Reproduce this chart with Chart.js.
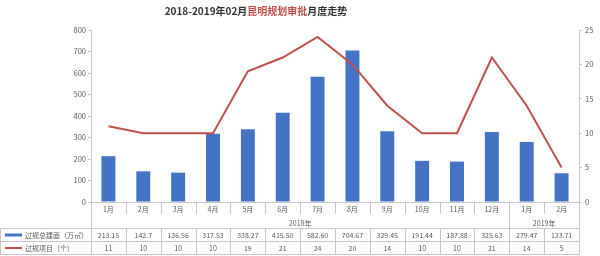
<!DOCTYPE html>
<html><head><meta charset="utf-8">
<script src="https://cdn.jsdelivr.net/npm/chart.js@4/dist/chart.umd.min.js"></script>
<style>html,body{margin:0;padding:0;background:#fff}</style>
</head><body>
<canvas id="c" width="600" height="256"></canvas>
<script>
const months = ['1月','2月','3月','4月','5月','6月','7月','8月','9月','10月','11月','12月','1月','2月'];
const yearLabels = ['2018年','2019年'];
const yearStarts = [0, 12];
const areaText = ['213.15','142.7','136.56','317.53','338.27','415.50','582.60','704.67','329.45','191.44','187.88','325.63','279.47','133.71'];
const projectCounts = [11,10,10,10,19,21,24,20,14,10,10,21,14,5];
const seriesNames = ['过规总建面（万㎡）','过规项目（个）'];
const titleParts = ['2018-2019年02月','昆明规划审批','月度走势'];
const areaValues = areaText.map(Number);

const BLUE = '#4472C4', RED = '#C0504D', TEXT = '#595959', LINE = '#C8C8C8';
const FONT = '"Noto Sans CJK SC","Noto Sans",sans-serif';

const tablePlugin = {
  id: 'tablePlugin',
  afterDraw(chart) {
    const ctx = chart.ctx, ca = chart.chartArea, x = chart.scales.x;
    const half = (x.getPixelForValue(1) - x.getPixelForValue(0)) / 2;
    const bx = k => Math.round(x.getPixelForValue(k) - half) + 0.5;
    const r0 = 228.5, r1 = 241.5, r2 = 254.5;
    ctx.save();
    ctx.strokeStyle = LINE; ctx.lineWidth = 1;
    ctx.beginPath();
    // left axis extension
    ctx.moveTo(Math.round(ca.left) + 0.5, ca.bottom); ctx.lineTo(Math.round(ca.left) + 0.5, r2);
    for (let k = 1; k <= months.length; k++) {
      const px = bx(k);
      if (yearStarts.includes(k) || k === months.length) {
        ctx.moveTo(px, ca.bottom); ctx.lineTo(px, r2);
      } else {
        ctx.moveTo(px, ca.bottom); ctx.lineTo(px, 214);
        ctx.moveTo(px, r0); ctx.lineTo(px, r2);
      }
    }
    [r0, r1, r2].forEach(y => { ctx.moveTo(0, y); ctx.lineTo(bx(months.length), y); });
    ctx.moveTo(0.5, r0); ctx.lineTo(0.5, r2);
    ctx.stroke();

    ctx.fillStyle = TEXT;
    ctx.font = '7px ' + FONT;
    ctx.textAlign = 'center'; ctx.textBaseline = 'middle';
    yearLabels.forEach((lab, i) => {
      const s = yearStarts[i];
      const e = (i + 1 < yearStarts.length ? yearStarts[i + 1] : months.length) - 1;
      ctx.fillText(lab, (x.getPixelForValue(s) + x.getPixelForValue(e)) / 2, 223);
    });
    months.forEach((m, i) => {
      const cx = x.getPixelForValue(i);
      ctx.fillText(areaText[i], cx, (r0 + r1) / 2 + 0.5);
      ctx.fillText(String(projectCounts[i]), cx, (r1 + r2) / 2 + 0.5);
    });
    // legend keys
    ctx.fillStyle = BLUE;
    ctx.fillRect(5, (r0 + r1) / 2 - 1.5, 17, 3);
    ctx.strokeStyle = RED; ctx.lineWidth = 2;
    ctx.beginPath(); ctx.moveTo(5, (r1 + r2) / 2); ctx.lineTo(22, (r1 + r2) / 2); ctx.stroke();
    ctx.fillStyle = TEXT; ctx.textAlign = 'left';
    ctx.fillText(seriesNames[0], 25, (r0 + r1) / 2 + 0.5);
    ctx.fillText(seriesNames[1], 25, (r1 + r2) / 2 + 0.5);

    // title
    ctx.font = 'bold 10px ' + FONT;
    const colors = ['#333333', RED, '#333333'];
    const widths = titleParts.map(t => ctx.measureText(t).width);
    let tx = 256 - widths.reduce((a, b) => a + b, 0) / 2;
    titleParts.forEach((t, i) => { ctx.fillStyle = colors[i]; ctx.fillText(t, tx, 11); tx += widths[i]; });
    ctx.restore();
  }
};

new Chart(document.getElementById('c'), {
  data: {
    labels: months,
    datasets: [
      { type: 'line', label: seriesNames[1], data: projectCounts, yAxisID: 'y1', borderColor: RED,
        borderWidth: 2, pointRadius: 0, tension: 0, fill: false, order: 0 },
      { type: 'bar', label: seriesNames[0], data: areaValues, yAxisID: 'y', backgroundColor: BLUE,
        categoryPercentage: 0.8, barPercentage: 0.5, order: 1 }
    ]
  },
  options: {
    responsive: false, animation: false, devicePixelRatio: 1,
    layout: { padding: { top: 30, left: 0, right: 0, bottom: 0 } },
    plugins: { legend: { display: false }, tooltip: { enabled: false }, title: { display: false } },
    scales: {
      x: {
        grid: { display: false, drawTicks: false },
        border: { display: true, color: LINE },
        ticks: { color: TEXT, font: { size: 7, family: FONT }, padding: 3, maxRotation: 0, autoSkip: false },
        afterFit: s => { s.height = 54; }
      },
      y: {
        position: 'left', min: 0, max: 800,
        grid: { drawOnChartArea: false, drawTicks: true, tickLength: 3, color: LINE },
        border: { display: true, color: LINE },
        ticks: { stepSize: 100, color: TEXT, font: { size: 7.5, family: FONT }, padding: 2 },
        afterFit: s => { s.width = 91; }
      },
      y1: {
        position: 'right', min: 0, max: 25,
        grid: { drawOnChartArea: false, drawTicks: true, tickLength: 3, color: LINE },
        border: { display: true, color: LINE },
        ticks: { stepSize: 5, color: TEXT, font: { size: 7.5, family: FONT }, padding: 3 },
        afterFit: s => { s.width = 21; }
      }
    }
  },
  plugins: [tablePlugin]
});
</script>
</body></html>
